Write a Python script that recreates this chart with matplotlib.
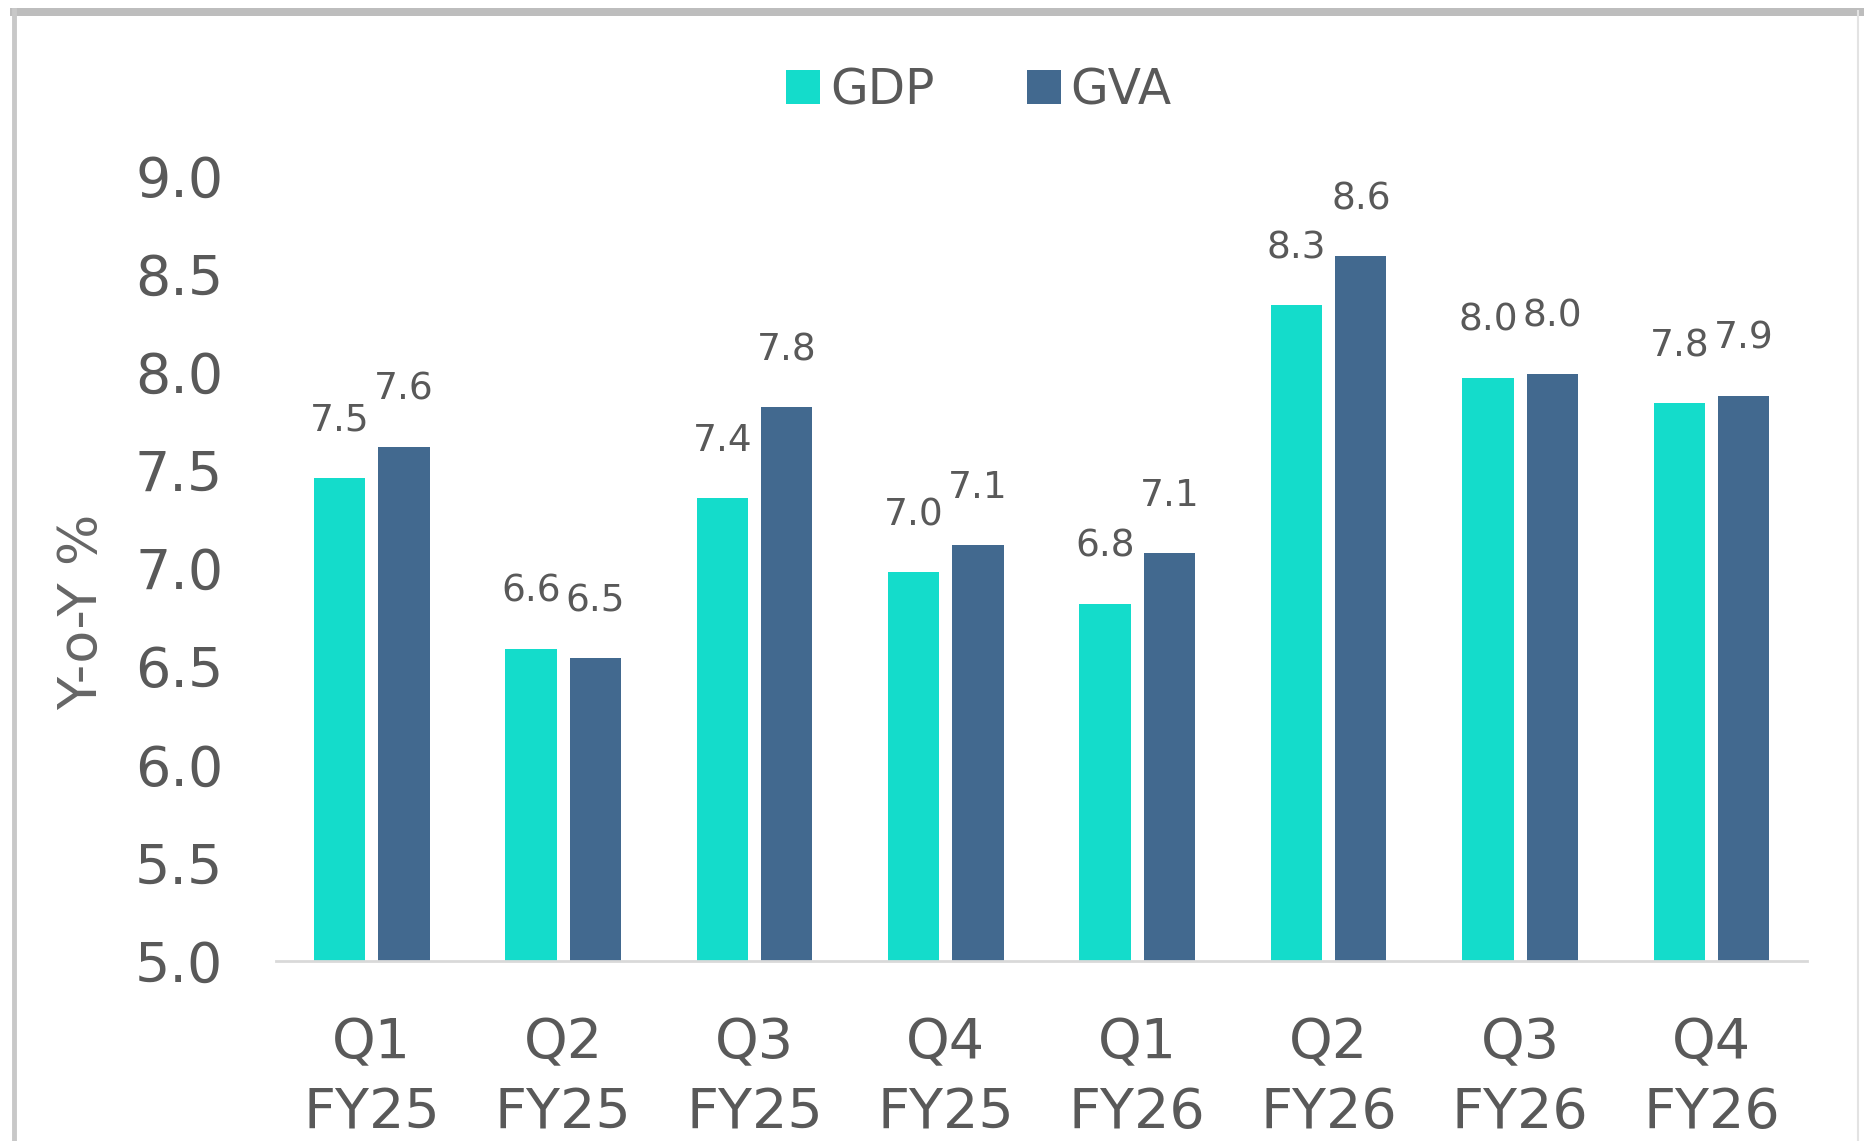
import matplotlib.pyplot as plt
import numpy as np
from matplotlib.patches import Rectangle
from matplotlib.lines import Line2D

quarters = ["Q1\nFY25", "Q2\nFY25", "Q3\nFY25", "Q4\nFY25",
            "Q1\nFY26", "Q2\nFY26", "Q3\nFY26", "Q4\nFY26"]
gdp = [7.46, 6.59, 7.36, 6.98, 6.82, 8.34, 7.97, 7.84]
gva = [7.62, 6.54, 7.82, 7.12, 7.08, 8.59, 7.99, 7.88]
yticks = [5.0, 5.5, 6.0, 6.5, 7.0, 7.5, 8.0, 8.5, 9.0]

GDP_COLOR = "#14dccb"
GVA_COLOR = "#42698f"
TEXT = "#595959"

plt.rcParams["font.family"] = ["DejaVu Sans"]

fig = plt.figure(figsize=(18.65, 11.41), dpi=100)
ax = fig.add_axes([0.148, 0.158, 0.821, 0.688])

x = np.arange(len(quarters))
w = 0.268
off = 0.168
b1 = ax.bar(x - off, gdp, w, color=GDP_COLOR, label="GDP", zorder=2)
b2 = ax.bar(x + off, gva, w, color=GVA_COLOR, label="GVA", zorder=2)

for bars, vals in ((b1, gdp), (b2, gva)):
    for rect, v in zip(bars, vals):
        ax.annotate(f"{v:.1f}", (rect.get_x() + rect.get_width() / 2, v),
                    xytext=(0, 41), textcoords="offset points",
                    ha="center", va="center", fontsize=27, color=TEXT,
                    annotation_clip=False)

ax.set_xlim(-0.5, 7.5)
ax.set_ylim(5.0, 9.0)
ax.set_yticks(yticks)
ax.set_yticklabels([f"{t:.1f}" for t in yticks])
ax.set_xticks(x)
ax.set_xticklabels(quarters, linespacing=1.38)
ax.tick_params(axis="y", length=0, pad=38, labelsize=40, labelcolor=TEXT)
ax.tick_params(axis="x", length=0, pad=40, labelsize=40, labelcolor=TEXT)

for s in ("top", "right", "left"):
    ax.spines[s].set_visible(False)
ax.spines["bottom"].set_color("#d9d9d9")
ax.spines["bottom"].set_linewidth(2)

ax.set_ylabel("Y-o-Y %", fontsize=39, color="#666666")
ax.yaxis.set_label_coords(-0.11, 0.445)

fig.legend(loc="center", bbox_to_anchor=(0.525, 0.921), ncol=2,
           frameon=False, fontsize=35, handlelength=0.7, handleheight=0.7,
           handletextpad=0.2, columnspacing=1.9, labelcolor=TEXT)

# outer frame of the original screenshot
fig.add_artist(Line2D([0.0075, 0.0075], [0, 0.991], transform=fig.transFigure,
                      color="#c8c8c8", lw=3.5))
fig.add_artist(Rectangle((0.0055, 0.986), 0.994, 0.007, transform=fig.transFigure,
                         color="#bdbdbd", lw=0))
fig.add_artist(Line2D([0.9965, 0.9965], [0, 0.99], transform=fig.transFigure,
                      color="#e3e3e3", lw=1.5))

fig.savefig("out.png", dpi=100, facecolor="white")
